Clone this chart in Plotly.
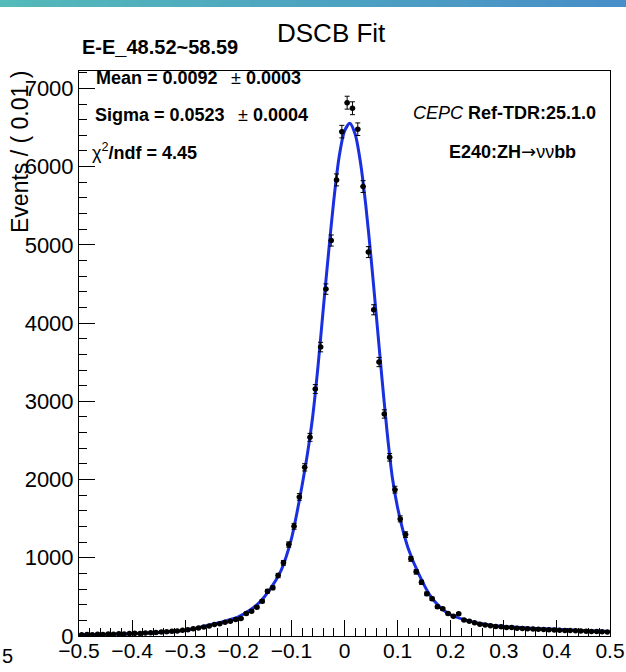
import plotly.graph_objects as go
import numpy as np

# ---------------- data ----------------
bin_centers = [
    -0.495, -0.485, -0.475, -0.465, -0.455, -0.445, -0.435, -0.425, -0.415, -0.405,
    -0.395, -0.385, -0.375, -0.365, -0.355, -0.345, -0.335, -0.325, -0.315, -0.305,
    -0.295, -0.285, -0.275, -0.265, -0.255, -0.245, -0.235, -0.225, -0.215, -0.205,
    -0.195, -0.185, -0.175, -0.165, -0.155, -0.145, -0.135, -0.125, -0.115, -0.105,
    -0.095, -0.085, -0.075, -0.065, -0.055, -0.045, -0.035, -0.025, -0.015, -0.005,
    0.005, 0.015, 0.025, 0.035, 0.045, 0.055, 0.065, 0.075, 0.085, 0.095,
    0.105, 0.115, 0.125, 0.135, 0.145, 0.155, 0.165, 0.175, 0.185, 0.195,
    0.205, 0.215, 0.225, 0.235, 0.245, 0.255, 0.265, 0.275, 0.285, 0.295,
    0.305, 0.315, 0.325, 0.335, 0.345, 0.355, 0.365, 0.375, 0.385, 0.395,
    0.405, 0.415, 0.425, 0.435, 0.445, 0.455, 0.465, 0.475, 0.485, 0.495,
]
events = [
    15, 20, 17, 22, 19, 24, 23, 28, 26, 31,
    34, 33, 39, 42, 44, 51, 53, 61, 64, 73,
    80, 93, 101, 116, 127, 146, 158, 176, 189, 211,
    224, 287, 317, 368, 445, 572, 616, 773, 935, 1169,
    1402, 1778, 2156, 2539, 3157, 3693, 4434, 5055, 5830, 6447,
    6817, 6746, 6478, 5745, 4907, 4170, 3502, 2838, 2284, 1871,
    1497, 1296, 986, 820, 687, 539, 475, 373, 347, 287,
    253, 283, 205, 190, 168, 150, 141, 131, 122, 118,
    110, 108, 100, 97, 92, 90, 86, 82, 80, 78,
    75, 71, 70, 66, 63, 62, 58, 57, 55, 52,
]
half_bin = 0.005

# DSCB fit curve
fit_x = [-0.5, -0.45, -0.4, -0.35, -0.3, -0.25, -0.22, -0.2, -0.18, -0.16,
         -0.14, -0.12, -0.11, -0.1, -0.09, -0.08, -0.07, -0.06, -0.05, -0.04,
         -0.03, -0.02, -0.01, 0.0, 0.01, 0.02, 0.03, 0.04, 0.05, 0.06,
         0.07, 0.08, 0.09, 0.1, 0.11, 0.12, 0.14, 0.16, 0.18, 0.2,
         0.25, 0.3, 0.35, 0.4, 0.45, 0.5]
fit_y = [17, 22, 30, 45, 72, 148, 200, 245, 322, 432,
         600, 830, 1010, 1240, 1560, 1920, 2320, 2800, 3440, 4180,
         4900, 5580, 6130, 6453, 6554, 6416, 6056, 5511, 4834, 4089,
         3335, 2621, 2030, 1640, 1350, 1120, 790, 530, 370, 272,
         168, 122, 100, 85, 70, 58]

x_range = [-0.5, 0.5]
y_range = [0, 7222]
x_tickvals = [-0.5, -0.4, -0.3, -0.2, -0.1, 0, 0.1, 0.2, 0.3, 0.4, 0.5]
x_ticktext = ["\u22120.5", "\u22120.4", "\u22120.3", "\u22120.2", "\u22120.1",
              "0", "0.1", "0.2", "0.3", "0.4", "0.5"]
y_tickvals = [0, 1000, 2000, 3000, 4000, 5000, 6000, 7000]
y_ticktext = ["0", "1000", "2000", "3000", "4000", "5000", "6000", "7000"]

title_text = "DSCB Fit"
subtitle_text = "E-E_48.52~58.59"
mean_text, mean_err = "Mean = 0.0092", "0.0003"
sigma_text, sigma_err = "Sigma = 0.0523", "0.0004"
chi2_text = "/ndf = 4.45"
ytitle = "Events / ( 0.01 )"

# ---------------- figure ----------------
W, H = 626, 672
L, R, T, B = 79, 16, 71, 36
PW, PH = W - L - R, H - T - B
FONT = "Liberation Sans, Arial, Helvetica, sans-serif"


def px(xp):
    return (xp - L) / PW


def py(yp):
    return (H - B - yp) / PH


fig = go.Figure()

fig.add_trace(go.Scatter(
    x=fit_x, y=fit_y, mode="lines",
    line=dict(color="#1a2fe0", width=3, shape="spline", smoothing=0.8),
    hoverinfo="skip", showlegend=False,
))

fig.add_trace(go.Scatter(
    x=bin_centers, y=events, mode="markers",
    marker=dict(color="black", size=5.5, symbol="circle"),
    error_y=dict(type="data", array=list(np.sqrt(events)), color="black",
                 thickness=1, width=2.5),
    error_x=dict(type="constant", value=half_bin, color="black",
                 thickness=1, width=0),
    showlegend=False,
))

axis_common = dict(
    showline=True, linecolor="black", linewidth=1, mirror=True,
    ticks="inside", tickcolor="black", tickwidth=1, ticklen=16,
    showgrid=False, zeroline=False, automargin=False,
)

fig.update_xaxes(range=x_range, tickmode="array", tickvals=x_tickvals,
                 ticktext=x_ticktext,
                 tickfont=dict(family=FONT, size=21, color="black"),
                 minor=dict(ticks="inside", ticklen=8, dtick=0.02,
                            tickcolor="black", showgrid=False),
                 ticklabelstandoff=-4,
                 **axis_common)
fig.update_yaxes(range=y_range, tickmode="array", tickvals=y_tickvals,
                 ticktext=y_ticktext,
                 tickfont=dict(family=FONT, size=22, color="black"),
                 minor=dict(ticks="inside", ticklen=8, dtick=200,
                            tickcolor="black", showgrid=False),
                 ticklabelstandoff=0,
                 **axis_common)

annotations = []


def add_text(text, xp, yp, size, xanchor="left", yanchor="middle", **kw):
    annotations.append(dict(
        text=text, x=px(xp), y=py(yp), xref="paper", yref="paper",
        xanchor=xanchor, yanchor=yanchor, showarrow=False,
        font=dict(family=kw.pop("family", FONT), size=size, color="black"),
        **kw))


add_text(title_text, 331, 33, 26, xanchor="center")
add_text("<b>" + subtitle_text + "</b>", 80, 47, 20)
add_text("<b>" + mean_text + "</b>", 94, 78, 18)
add_text("\u00b1 <b>" + mean_err + "</b>", 229, 78, 18)
add_text("<b>" + sigma_text + "</b>", 93, 115, 18)
add_text("\u00b1 <b>" + sigma_err + "</b>", 236, 115, 18)
add_text("\u03c7<sup>2</sup><b>" + chi2_text + "</b>", 90, 152, 18)
add_text("<i>CEPC</i> <b>Ref-TDR:25.1.0</b>", 598, 113, 18, xanchor="right")
add_text("<b>E240:ZH</b><span style='font-family:DejaVu Sans'>\u2192</span>"
         "\u03bd\u03bd<b>bb</b>", 578, 151, 18, xanchor="right")
add_text(ytitle, 20, 152, 23, xanchor="center", textangle=-90)
add_text("5", 0, 656, 20, xanchor="left")

# decorative header gradient band
shapes = []
c0 = np.array([84, 186, 186])
c1 = np.array([72, 142, 200])
n = 40
for i in range(n):
    t = i / (n - 1)
    c = (c0 * (1 - t) + c1 * t).astype(int)
    x_lo = W * i / n
    x_hi = min(W, W * (i + 1) / n + 1)
    shapes.append(dict(type="rect", xref="paper", yref="paper",
                       x0=px(x_lo), x1=px(x_hi),
                       y0=py(7), y1=py(0),
                       fillcolor="rgb(%d,%d,%d)" % tuple(c), line=dict(width=0),
                       layer="above"))

fig.update_layout(
    width=W, height=H,
    margin=dict(l=L, r=R, t=T, b=B, pad=0, autoexpand=False),
    plot_bgcolor="white", paper_bgcolor="white",
    annotations=annotations, shapes=shapes,
    font=dict(family=FONT, color="black"),
)

fig.write_html(
    "out.html", config={"displayModeBar": False},
    post_script=(
        "document.documentElement.style.margin='0';"
        "document.documentElement.style.padding='0';"
        "document.documentElement.style.overflow='hidden';"
        "document.body.style.margin='0';"
        "document.body.style.padding='0';"
        "document.body.style.overflow='hidden';"
    ))
